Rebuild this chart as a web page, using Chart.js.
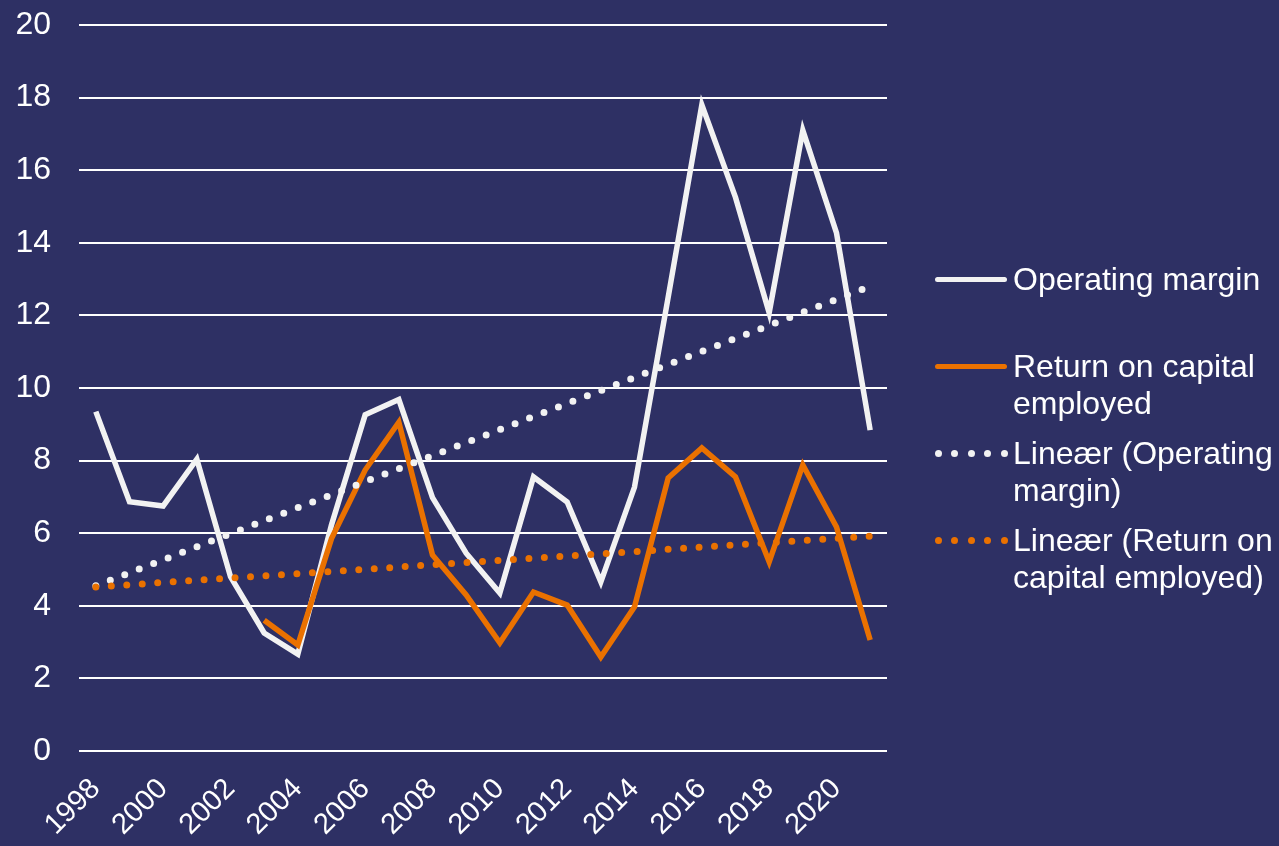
<!DOCTYPE html>
<html>
<head>
<meta charset="utf-8">
<script src="https://cdn.jsdelivr.net/npm/chart.js@4/dist/chart.umd.min.js"></script>
<style>
  html, body { margin: 0; padding: 0; background: #2E3064; }
  #wrap { position: relative; width: 1279px; height: 846px; overflow: hidden; }
  #chart { position: absolute; left: 0; top: 0; }
  .legend-item {
    position: absolute; left: 935px; display: flex; align-items: flex-start;
    font-family: 'Liberation Sans', Arial, sans-serif; font-size: 32px; line-height: 37px; color: #fff;
    white-space: nowrap;
  }
  .swatch { position: relative; width: 72px; height: 37px; flex: none; margin-right: 6px; }
  .swatch .line { position: absolute; left: 0; right: 0; top: 16px; height: 5px; border-radius: 3px; }
  .swatch .dot { position: absolute; top: 15px; width: 7px; height: 7px; border-radius: 50%; }
</style>
</head>
<body>
<div id="wrap">
  <canvas id="chart" width="1279" height="846"></canvas>
  <div id="legend"></div>
</div>
<script>
// data
const years = ['1998','1999','2000','2001','2002','2003','2004','2005','2006','2007','2008','2009',
               '2010','2011','2012','2013','2014','2015','2016','2017','2018','2019','2020','2021'];
const operatingMargin = [9.35, 6.87, 6.75, 8.04, 4.8, 3.25, 2.67, 6.23, 9.26, 9.68, 6.98, 5.45,
                         4.35, 7.55, 6.86, 4.66, 7.27, 12.5, 17.8, 15.25, 12.07, 17.1, 14.27, 8.84];
const returnOnCapital = [null, null, null, null, null, 3.6, 2.92, 5.85, 7.74, 9.06, 5.4, 4.3,
                         2.98, 4.38, 4.02, 2.59, 3.97, 7.52, 8.35, 7.55, 5.21, 7.88, 6.17, 3.06];
// trend lines: value at first and last year
const trendOperatingEnds = [4.55, 12.8];
const trendCapitalEnds = [4.52, 5.92];
const yMin = 0, yMax = 20, yStep = 2;

const seriesNames = ['Operating margin', 'Return on capital employed',
                     'Lineær (Operating margin)', 'Lineær (Return on capital employed)'];
const legendLines = [['Operating margin'], ['Return on capital', 'employed'],
                     ['Lineær (Operating', 'margin)'], ['Lineær (Return on', 'capital employed)']];

const WHITE = '#F2F2F2';
const ORANGE = '#EA7100';
const FONT = "'Liberation Sans', Arial, sans-serif";

function endsOnly(ends) {
  const last = years.length - 1;
  return years.map((y, i) => i === 0 ? ends[0] : (i === last ? ends[1] : null));
}

const ctx = document.getElementById('chart').getContext('2d');
const chart = new Chart(ctx, {
  type: 'line',
  data: {
    labels: years,
    datasets: [{
      label: seriesNames[0],
      data: operatingMargin,
      borderColor: WHITE,
      borderWidth: 5.5,
      pointRadius: 0,
      order: 4
    }, {
      label: seriesNames[1],
      data: returnOnCapital,
      borderColor: ORANGE,
      borderWidth: 5.5,
      pointRadius: 0,
      order: 3
    }, {
      label: seriesNames[2],
      data: endsOnly(trendOperatingEnds),
      borderColor: WHITE,
      borderWidth: 7,
      borderDash: [0, 15.5],
      borderCapStyle: 'round',
      spanGaps: true,
      pointRadius: 0,
      order: 2
    }, {
      label: seriesNames[3],
      data: endsOnly(trendCapitalEnds),
      borderColor: ORANGE,
      borderWidth: 7,
      borderDash: [0, 15.5],
      borderCapStyle: 'round',
      spanGaps: true,
      pointRadius: 0,
      order: 1
    }]
  },
  options: {
    responsive: false,
    animation: false,
    layout: { padding: { left: 16, right: 392, top: 25, bottom: 0 } },
    plugins: { legend: { display: false }, tooltip: { enabled: false } },
    scales: {
      x: {
        offset: true,
        grid: { display: false, drawTicks: false },
        border: { display: false },
        afterFit: function(scale) { scale.height = 95; },
        ticks: {
          autoSkip: false,
          minRotation: 45,
          maxRotation: 45,
          padding: 21,
          color: '#FFFFFF',
          font: { family: FONT, size: 29 },
          callback: function(val, i) { return i % 2 === 0 ? years[i] : ''; }
        }
      },
      y: {
        min: yMin,
        max: yMax,
        grid: { color: '#FFFFFF', lineWidth: 2, drawTicks: false },
        border: { display: false },
        afterFit: function(scale) {
          scale.width = 63;
          scale.paddingTop = 0;
          scale.paddingBottom = 0;
        },
        ticks: {
          stepSize: yStep,
          padding: 28,
          color: '#FFFFFF',
          font: { family: FONT, size: 32 }
        }
      }
    }
  }
});

// legend on the right
const legendTops = [261, 348, 435, 522];
const legendColors = [WHITE, ORANGE, WHITE, ORANGE];
const legend = document.getElementById('legend');
legendLines.forEach(function(lines, i) {
  const item = document.createElement('div');
  item.className = 'legend-item';
  item.style.top = legendTops[i] + 'px';
  const sw = document.createElement('div');
  sw.className = 'swatch';
  if (i < 2) {
    const ln = document.createElement('div');
    ln.className = 'line';
    ln.style.background = legendColors[i];
    sw.appendChild(ln);
  } else {
    [0, 1, 2, 3, 4].forEach(function(k) {
      const d = document.createElement('div');
      d.className = 'dot';
      d.style.left = (k * 16.4) + 'px';
      d.style.background = legendColors[i];
      sw.appendChild(d);
    });
  }
  const txt = document.createElement('div');
  txt.innerHTML = lines.join('<br>');
  item.appendChild(sw);
  item.appendChild(txt);
  legend.appendChild(item);
});
</script>
</body>
</html>
